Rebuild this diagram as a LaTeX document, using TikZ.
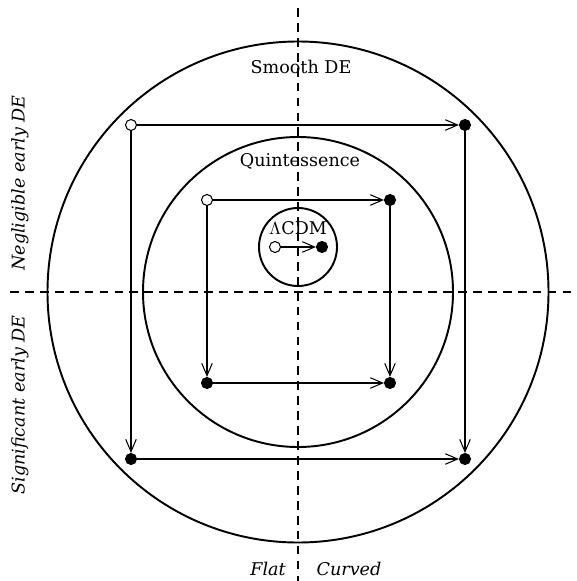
\documentclass[tikz,border=0pt]{standalone}
\usepackage{fontspec}
\setmainfont{DejaVu Serif}
\usetikzlibrary{arrows.meta}

\tikzset{
  ring/.style={draw, line width=1.1pt},
  axis/.style={draw, line width=0.7pt, dash pattern=on 5pt off 3.5pt},
  opendot/.style={circle, draw, fill=white, inner sep=0pt, minimum size=0.22cm, line width=0.6pt},
  fulldot/.style={circle, draw, fill=black, inner sep=0pt, minimum size=0.22cm, line width=0.6pt},
  arrow/.style={-{Straight Barb[length=7pt, width=6pt, line width=0.6pt]}, line width=0.6pt},
  lbl/.style={font=\fontsize{10}{12}\selectfont},
}

\begin{document}
\begin{tikzpicture}[x=0.02cm, y=-0.02cm]
  \useasboundingbox (0,0) rectangle (577,581);

  % Achsen
  \draw[axis] (298,8) -- (298,581);
  \draw[axis] (10,292) -- (572,292);

  % Kreise
  \draw[ring] (298,292) circle (250.5);
  \draw[ring] (298,292) circle (155);
  \draw[ring] (298,247) circle (39);

  % Beschriftungen
  \node[lbl] (smooth) at (301,67)  {Smooth DE};
  \node[lbl] (quint)  at (300,161) {Quintessence};
  \node[lbl] (lcdm)   at (298,228) {$\Lambda$CDM};
  \node[lbl, rotate=90] (negl) at (20,183) {\itshape Negligible early DE};
  \node[lbl, rotate=90] (sign) at (20,405) {\itshape Significant early DE};
  \node[lbl] (flat)   at (268,569) {\itshape Flat};
  \node[lbl] (curved) at (349,569) {\itshape Curved};

  % Aeusseres Rechteck
  \node[opendot] (o1) at (131,125) {};
  \node[fulldot] (o2) at (465,125) {};
  \node[fulldot] (o3) at (131,459) {};
  \node[fulldot] (o4) at (465,459) {};

  % Inneres Rechteck
  \node[opendot] (i1) at (207,200) {};
  \node[fulldot] (i2) at (390,200) {};
  \node[fulldot] (i3) at (207,383) {};
  \node[fulldot] (i4) at (390,383) {};

  % LCDM
  \node[opendot] (l1) at (275,247) {};
  \node[fulldot] (l2) at (322,247) {};

  % Verbindungen
  \draw[arrow] (o1) -- (o2);
  \draw[arrow] (o1) -- (o3);
  \draw[arrow] (o2) -- (o4);
  \draw[arrow] (o3) -- (o4);
  \draw[arrow] (i1) -- (i2);
  \draw[arrow] (i1) -- (i3);
  \draw[arrow] (i2) -- (i4);
  \draw[arrow] (i3) -- (i4);
  \draw[arrow] (l1) -- (l2);
\end{tikzpicture}
\end{document}
